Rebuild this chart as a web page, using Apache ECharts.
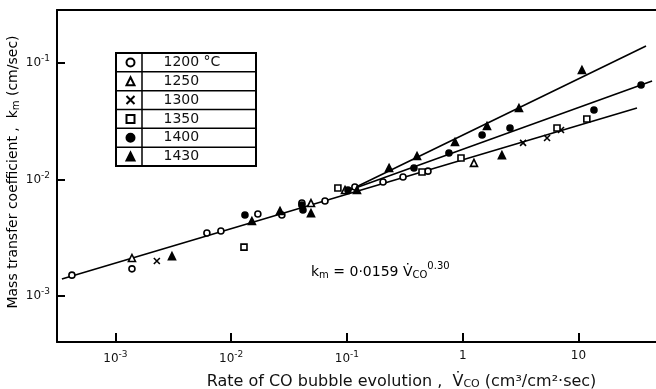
<!DOCTYPE html>
<html><head><meta charset="utf-8">
<script src="https://cdn.jsdelivr.net/npm/echarts@6/dist/echarts.min.js"></script>
<style>html,body{margin:0;padding:0;background:#fff}#c{width:656px;height:389px}</style>
</head><body><div id="c"></div>
<script>
const temps = ['1200', '1250', '1300', '1350', '1400', '1430'];
const s1200 = [[4.21e-4,1.51e-3],[1.39e-3,1.71e-3],[6.17e-3,3.47e-3],[8.15e-3,3.61e-3],[0.0170,5.06e-3],[0.0274,4.96e-3],[0.0408,6.28e-3],[0.0646,6.53e-3],[0.117,8.62e-3],[0.205,9.52e-3],[0.305,0.0105],[0.501,0.0118]];
const s1250 = [[1.39e-3,2.12e-3],[0.0489,6.28e-3],[0.0962,8.13e-3],[1.25,0.0139]];
const s1300 = [[2.28e-3,2.00e-3],[3.32,0.0206],[5.35,0.0227],[7.06,0.0266]];
const s1350 = [[0.0129,2.63e-3],[0.0835,8.45e-3],[0.445,0.0116],[0.966,0.0153],[6.52,0.0277],[11.8,0.0331]];
const s1400 = [[0.01315,4.96e-3],[0.0408,6.04e-3],[0.0417,5.47e-3],[0.102,8.13e-3],[0.379,0.01256],[0.760,0.0169],[1.47,0.0241],[2.56,0.0277],[13.6,0.0395],[34.7,0.0647]];
const s1430 = [[3.08e-3,2.20e-3],[0.0151,4.40e-3],[0.0264,5.37e-3],[0.0489,5.15e-3],[0.122,8.13e-3],[0.231,0.01256],[0.403,0.0159],[0.857,0.0210],[1.62,0.0288],[2.18,0.0162],[3.06,0.0411],[10.7,0.0871]];
const fitAll = [[3.45e-4,1.40e-3],[32.0,0.0411]];
const fit1400 = [[0.106,8.13e-3],[43.2,0.070]];
const fit1430 = [[0.106,8.13e-3],[38.3,0.140]];
const xTicks = [0.001, 0.01, 0.1, 1, 10];
const yTicks = [0.001, 0.01, 0.1];

const FONT = 'DejaVu Sans';
const chart = echarts.init(document.getElementById('c'), null, {renderer: 'canvas'});

function fmt(v) {
  const e = Math.round(Math.log10(v));
  if (e >= 0) return '{b|' + Math.round(v) + '}';
  return '{b|10}{s|' + e + '}';
}
const tickRich = {
  b: {fontSize: 12, fontFamily: FONT, color: '#111'},
  s: {fontSize: 9, fontFamily: FONT, color: '#111', padding: [0, 0, 8, 0]}
};
const blk = '#000';
const symStyle = {
  '1200': {symbol: 'circle', size: 6, fill: '#fff'},
  '1250': {symbol: 'triangle', size: 7, fill: '#fff'},
  '1300': {symbol: 'path://M0,0L10,10M10,0L0,10', size: 6, fill: 'none'},
  '1350': {symbol: 'rect', size: 6, fill: '#fff'},
  '1400': {symbol: 'circle', size: 6, fill: blk},
  '1430': {symbol: 'triangle', size: 7, fill: blk}
};
const dataMap = {'1200': s1200, '1250': s1250, '1300': s1300, '1350': s1350, '1400': s1400, '1430': s1430};

const scatter = temps.map(t => ({
  name: t, type: 'scatter', data: dataMap[t],
  symbol: symStyle[t].symbol, symbolSize: symStyle[t].size,
  itemStyle: {color: symStyle[t].fill, borderColor: blk, borderWidth: 1.6, opacity: 1},
  z: 3
}));
const fitLine = (name, d) => ({
  name, type: 'line', data: d, showSymbol: false, symbol: 'none',
  lineStyle: {color: blk, width: 1.6}, z: 2, silent: true
});

// legend table geometry
const tabX = 116, tabY = 53, tabW = 140, rowH = 18.83, divX = 142;
const tableEls = [{
  type: 'rect', shape: {x: tabX, y: tabY, width: tabW, height: rowH * temps.length},
  style: {fill: 'none', stroke: blk, lineWidth: 2}, z: 10
}, {
  type: 'line', shape: {x1: divX, y1: tabY, x2: divX, y2: tabY + rowH * temps.length},
  style: {stroke: blk, lineWidth: 1.5}, z: 10
}];
for (let i = 1; i < temps.length; i++) {
  tableEls.push({type: 'line', shape: {x1: tabX, y1: tabY + rowH * i, x2: tabX + tabW, y2: tabY + rowH * i},
    style: {stroke: blk, lineWidth: 1.5}, z: 10});
}

const option = {
  animation: false,
  backgroundColor: '#fff',
  grid: {left: 57, right: 0, top: 10, bottom: 47, containLabel: false, outerBoundsMode: 'none'},
  xAxis: [{
    type: 'log', logBase: 10, min: 3.13e-4, max: 46.7, position: 'bottom',
    axisLine: {onZero: false, lineStyle: {color: blk, width: 2}},
    axisTick: {inside: true, length: 9, customValues: xTicks, lineStyle: {color: blk, width: 2}},
    minorTick: {show: false},
    axisLabel: {customValues: xTicks, formatter: fmt, rich: tickRich, margin: 8},
    splitLine: {show: false},
    name: '{t|Rate of CO bubble evolution ,  V\u0307}{sub|CO}{t| (cm\u00B3/cm\u00B2\u00B7sec)}',
    nameLocation: 'middle', nameGap: 31,
    nameTextStyle: {padding: [0, 0, 0, 90], rich: {
      t: {fontSize: 16, fontFamily: FONT, color: '#111'},
      sub: {fontSize: 11, fontFamily: FONT, color: '#111', padding: [6, 0, 0, 0]}
    }}
  }, {
    type: 'log', logBase: 10, min: 3.13e-4, max: 46.7, position: 'top',
    axisLine: {onZero: false, lineStyle: {color: blk, width: 2}},
    axisTick: {show: false}, axisLabel: {show: false}, splitLine: {show: false}
  }],
  yAxis: {
    type: 'log', logBase: 10, min: 4.03e-4, max: 0.285,
    axisLine: {onZero: false, lineStyle: {color: blk, width: 2}},
    axisTick: {inside: true, length: 8, customValues: yTicks, lineStyle: {color: blk, width: 2}},
    minorTick: {show: false},
    axisLabel: {customValues: yTicks, formatter: fmt, rich: tickRich, margin: 7},
    splitLine: {show: false}
  },
  legend: {
    orient: 'vertical', left: 124, top: 53, padding: 0, itemGap: 0,
    itemWidth: 8, itemHeight: 8, selectedMode: false,
    data: temps,
    formatter: n => n === '1200' ? '1200 \u00B0C' : n,
    textStyle: {fontSize: 14, fontFamily: FONT, color: '#111', lineHeight: 18.83, padding: [0, 0, 0, 24]}
  },
  graphic: tableEls.concat([{
    type: 'text', x: 311, y: 272, z: 10,
    style: {
      text: '{n|k}{sub|m}{n| = 0\u00B70159 V\u0307}{sub|CO}{sup|0.30}',
      verticalAlign: 'middle',
      rich: {
        n: {fontSize: 14, fontFamily: FONT, color: '#111'},
        sub: {fontSize: 10, fontFamily: FONT, color: '#111', padding: [7, 0, 0, 0]},
        sup: {fontSize: 10, fontFamily: FONT, color: '#111', padding: [0, 0, 12, 0]}
      }
    }
  }, {
    type: 'text', x: 13, y: 172, rotation: Math.PI / 2, z: 10,
    style: {
      text: '{t|Mass transfer coefficient ,  k}{sub|m}{t| (cm/sec)}',
      align: 'center', verticalAlign: 'middle',
      rich: {
        t: {fontSize: 14, fontFamily: FONT, color: '#111'},
        sub: {fontSize: 10, fontFamily: FONT, color: '#111', padding: [6, 0, 0, 0]}
      }
    }
  }]),
  series: scatter.concat([
    fitLine('fit all', fitAll),
    fitLine('fit 1400', fit1400),
    fitLine('fit 1430', fit1430)
  ])
};
chart.setOption(option);
</script>
</body></html>
